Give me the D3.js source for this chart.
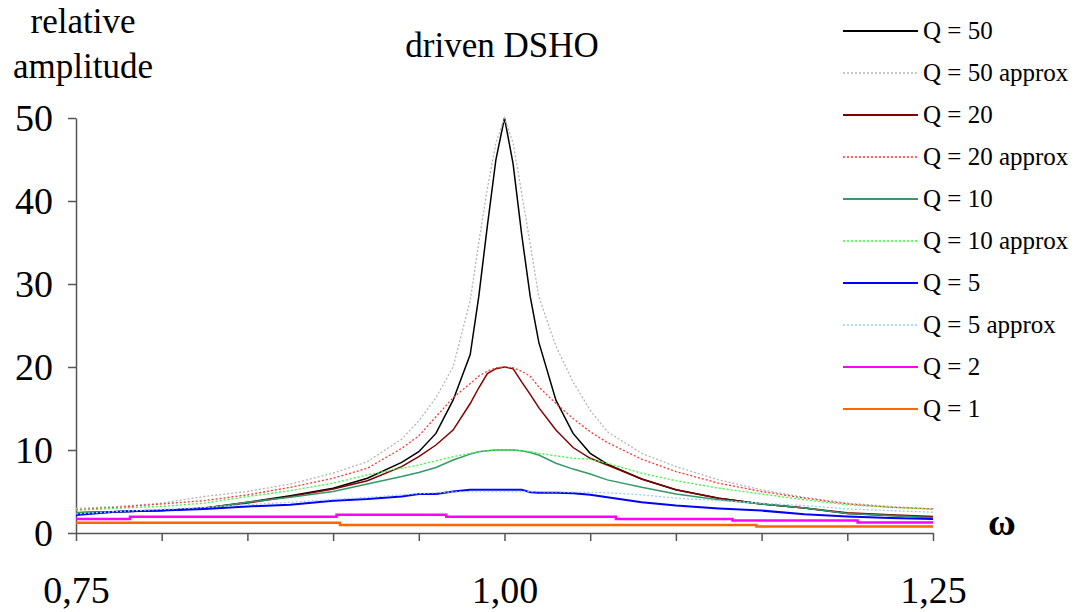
<!DOCTYPE html>
<html>
<head>
<meta charset="utf-8">
<script src="https://cdn.jsdelivr.net/npm/d3@7"></script>
<style>
  body { margin: 0; background: #fff; }
  svg text { font-family: "Liberation Serif", "Times New Roman", serif; fill: #000; }
</style>
</head>
<body>
<div id="chart"></div>
<script>
// omega grid shared by the smooth curves
const omega = [0.75, 0.775, 0.80, 0.825, 0.85, 0.875, 0.90, 0.92, 0.94, 0.95, 0.96, 0.97, 0.98, 0.985, 0.99, 0.995,
  1.00, 1.005, 1.01, 1.015, 1.02, 1.03, 1.04, 1.05, 1.06, 1.08, 1.10, 1.125, 1.15, 1.175, 1.20, 1.225, 1.25];

const q50 = [2.45, 2.55, 2.7, 3.0, 3.7, 4.5, 5.4, 6.6, 8.5, 9.8, 12, 16, 21.5, 28.5, 37, 45,
  50, 44.5, 36, 28.5, 23, 16, 12, 9.6, 8.3, 6.5, 5.2, 4.2, 3.5, 3.0, 2.35, 2.1, 1.9];
const q50approx = [2.95, 3.2, 3.6, 4.4, 5.0, 5.9, 7.2, 8.6, 11.3, 13.5, 16.3, 20, 28, 35, 41.5, 47,
  50, 47, 41, 34.8, 28.5, 22.5, 18.2, 14.8, 12.2, 9.6, 8.0, 6.4, 5.2, 4.3, 3.6, 3.2, 2.9];
const q20 = [2.45, 2.55, 2.7, 3.0, 3.6, 4.4, 5.3, 6.3, 8.0, 9.2, 10.6, 12.4, 15.6, 17.5, 19.2, 19.8,
  20, 19.8, 18.2, 16.7, 15.1, 12.4, 10.3, 9.0, 8.2, 6.5, 5.2, 4.2, 3.5, 3.0, 2.45, 2.2, 2.0];
const q20approx = [2.8, 3.1, 3.5, 3.9, 4.6, 5.5, 6.6, 7.8, 10.2, 11.7, 14.0, 16.3, 18.0, 18.9, 19.5, 19.9,
  20, 19.9, 19.5, 18.9, 17.6, 15.6, 13.8, 12.2, 10.9, 8.9, 7.4, 6.0, 5.0, 4.2, 3.5, 3.1, 2.9];
const q10 = [2.45, 2.55, 2.7, 2.95, 3.7, 4.3, 5.0, 5.9, 6.8, 7.3, 7.9, 8.8, 9.5, 9.8, 9.9, 10,
  10, 10, 9.9, 9.7, 9.4, 8.4, 7.7, 7.1, 6.4, 5.5, 4.7, 4.0, 3.5, 3.0, 2.35, 2.1, 1.85];
const q10approx = [2.75, 3.0, 3.2, 3.6, 4.4, 5.1, 6.0, 7.0, 7.8, 8.2, 8.7, 9.2, 9.6, 9.8, 9.9, 10,
  10, 10, 9.9, 9.8, 9.6, 9.3, 9.0, 8.9, 8.4, 7.2, 6.3, 5.4, 4.7, 4.0, 3.4, 3.1, 2.85];
const q5 = [2.17, 2.6, 2.7, 2.9, 3.2, 3.4, 3.9, 4.1, 4.4, 4.7, 4.7, 5.0, 5.2, 5.2, 5.2, 5.2,
  5.2, 5.2, 5.2, 4.9, 4.85, 4.85, 4.8, 4.6, 4.3, 3.7, 3.3, 2.95, 2.7, 2.25, 2.0, 1.8, 1.7];
const q5approx = [2.3, 2.6, 2.85, 3.1, 3.4, 3.7, 4.05, 4.3, 4.6, 4.75, 4.85, 4.95, 5.0, 5.0, 5.0, 5.0,
  5.0, 5.0, 5.0, 5.0, 4.98, 4.95, 4.92, 4.9, 4.85, 4.6, 4.2, 3.9, 3.6, 3.3, 2.9, 2.7, 2.5];

// the two low curves are drawn as plateaus
const q2Omega = [0.75, 0.7815, 0.902, 0.966, 1.065, 1.133, 1.206, 1.25];
const q2 = [1.7, 1.96, 2.2, 1.96, 1.69, 1.5, 1.27, 1.27];
const q1Omega = [0.75, 0.904, 1.147, 1.25];
const q1 = [1.25, 0.97, 0.78, 0.78];

const series = [
  { name: 'Q = 50', x: omega, y: q50, color: '#000000', dash: null, width: 1.5 },
  { name: 'Q = 50 approx', x: omega, y: q50approx, color: '#b4b4b4', dash: '2,2', width: 1.3 },
  { name: 'Q = 20', x: omega, y: q20, color: '#800000', dash: null, width: 1.5 },
  { name: 'Q = 20 approx', x: omega, y: q20approx, color: '#ff3333', dash: '2,2', width: 1.3 },
  { name: 'Q = 10', x: omega, y: q10, color: '#339966', dash: null, width: 1.5 },
  { name: 'Q = 10 approx', x: omega, y: q10approx, color: '#33ff33', dash: '2,2', width: 1.3 },
  { name: 'Q = 5', x: omega, y: q5, color: '#0000ff', dash: null, width: 2 },
  { name: 'Q = 5 approx', x: omega, y: q5approx, color: '#99ccff', dash: '2,2', width: 1.3 },
  { name: 'Q = 2', x: q2Omega, y: q2, color: '#ff00ff', dash: null, width: 2.5, step: true },
  { name: 'Q = 1', x: q1Omega, y: q1, color: '#ff6600', dash: null, width: 2.5, step: true }
];

const yTicks = [0, 10, 20, 30, 40, 50];
const xTicks = [0.75, 0.80, 0.85, 0.90, 0.95, 1.00, 1.05, 1.10, 1.15, 1.20, 1.25];
const xLabels = [0.75, 1.00, 1.25];

const width = 1079, height = 612;
const svg = d3.select('#chart').append('svg')
  .attr('width', width)
  .attr('height', height);

const x = d3.scaleLinear().domain([0.75, 1.25]).range([76, 933]);
const y = d3.scaleLinear().domain([0, 50]).range([533, 118]);

// axes
const yAxis = svg.append('g')
  .attr('transform', 'translate(76,0)')
  .call(d3.axisLeft(y).tickValues(yTicks).tickSize(8).tickSizeOuter(0).tickPadding(15));
yAxis.selectAll('text').style('font-size', '38px').attr('dy', '0.34em');

const xAxis = svg.append('g')
  .attr('transform', 'translate(0,533)')
  .call(d3.axisBottom(x).tickValues(xTicks).tickSize(8).tickSizeOuter(0).tickPadding(35)
    .tickFormat(d => xLabels.some(v => Math.abs(v - d) < 1e-9) ? d3.format('.2f')(d).replace('.', ',') : ''));
xAxis.selectAll('text').style('font-size', '38px');

svg.selectAll('.domain, .tick line').attr('stroke', '#555').attr('stroke-width', 1.5);

// curves
const line = d3.line().x(d => x(d[0])).y(d => y(d[1]));
const stepLine = d3.line().x(d => x(d[0])).y(d => y(d[1])).curve(d3.curveStepAfter);

series.forEach(s => {
  const pts = s.x.map((w, i) => [w, s.y[i]]);
  svg.append('path')
    .datum(pts)
    .attr('fill', 'none')
    .attr('stroke', s.color)
    .attr('stroke-width', s.width)
    .attr('stroke-dasharray', s.dash)
    .attr('d', s.step ? stepLine : line);
});

// titles
svg.append('text').attr('x', 502).attr('y', 57).attr('text-anchor', 'middle')
  .style('font-size', '35px').text('driven DSHO');
svg.append('text').attr('x', 83).attr('y', 33).attr('text-anchor', 'middle')
  .style('font-size', '35px').text('relative');
svg.append('text').attr('x', 83).attr('y', 78).attr('text-anchor', 'middle')
  .style('font-size', '35px').text('amplitude');
svg.append('text').attr('x', 1002).attr('y', 535).attr('text-anchor', 'middle')
  .style('font-size', '38px').style('font-weight', 'bold').text('ω');

// legend
const legend = svg.append('g').attr('transform', 'translate(843,31)');
series.forEach((s, i) => {
  const g = legend.append('g').attr('transform', `translate(0,${i * 42})`);
  g.append('line')
    .attr('x1', 0).attr('x2', 75)
    .attr('stroke', s.color)
    .attr('stroke-width', s.dash ? 1.3 : 2)
    .attr('stroke-dasharray', s.dash);
  g.append('text').attr('x', 80).attr('y', 8)
    .style('font-size', '25px').text(s.name);
});
</script>
</body>
</html>
